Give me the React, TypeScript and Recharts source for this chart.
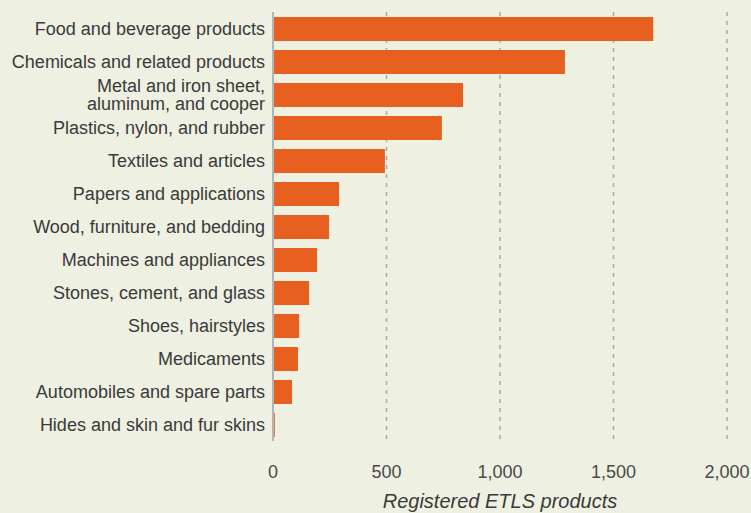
import React from "react";
import { Bar, BarChart, CartesianGrid, Label, XAxis, YAxis } from "recharts";

const categories = [
  "Food and beverage products",
  "Chemicals and related products",
  "Metal and iron sheet,\naluminum, and cooper",
  "Plastics, nylon, and rubber",
  "Textiles and articles",
  "Papers and applications",
  "Wood, furniture, and bedding",
  "Machines and appliances",
  "Stones, cement, and glass",
  "Shoes, hairstyles",
  "Medicaments",
  "Automobiles and spare parts",
  "Hides and skin and fur skins",
];

const registered = [1675, 1286, 837, 744, 493, 291, 247, 194, 159, 115, 110, 84, 8];

const xTicks = [0, 500, 1000, 1500, 2000];

const data = categories.map((name, i) => ({ name, products: registered[i] }));

const FONT = "'Liberation Sans', Arial, Helvetica, sans-serif";
const BG = "#eef0e2";

// y-axis labels, with the one two-line category split on "\n"
function CategoryTick(props: any) {
  const { x, y, payload } = props;
  const lines = String(payload.value).split("\n");
  const lh = 18;
  const first = -((lines.length - 1) * lh) / 2 + 6;
  return (
    <text x={x} y={y} textAnchor="end" fill="#3a3a3a" fontSize={18} fontFamily={FONT}>
      {lines.map((line, i) => (
        <tspan key={i} x={x} dy={i === 0 ? first : lh}>
          {line}
        </tspan>
      ))}
    </text>
  );
}

export default function App() {
  return (
    <div style={{ width: 751, height: 513, background: BG }}>
      <style>{`body{margin:0;background:${BG};}`}</style>
      <BarChart
        width={751}
        height={513}
        data={data}
        layout="vertical"
        margin={{ top: 12, right: 24, left: 0, bottom: 0 }}
      >
        <CartesianGrid
          horizontal={false}
          stroke="#a9a9a9"
          strokeDasharray="4 5"
          strokeWidth={1.5}
        />
        <XAxis
          type="number"
          domain={[0, 2000]}
          ticks={xTicks}
          height={72}
          axisLine={false}
          tickLine={false}
          tickSize={0}
          tickMargin={24}
          tickFormatter={(v: number) => v.toLocaleString("en-US")}
          tick={{ fill: "#4a4a4a", fontSize: 18, fontFamily: FONT }}
        >
          <Label
            value="Registered ETLS products"
            position="insideBottom"
            offset={5}
            style={{
              fill: "#3a3a3a",
              fontSize: 20,
              fontStyle: "italic",
              fontFamily: FONT,
            }}
          />
        </XAxis>
        <YAxis
          type="category"
          dataKey="name"
          width={273}
          interval={0}
          tickLine={false}
          axisLine={{ stroke: "#b4b4b4", strokeWidth: 2 }}
          tick={<CategoryTick />}
        />
        <Bar dataKey="products" fill="#e8601f" barSize={24} isAnimationActive={false} />
      </BarChart>
    </div>
  );
}
